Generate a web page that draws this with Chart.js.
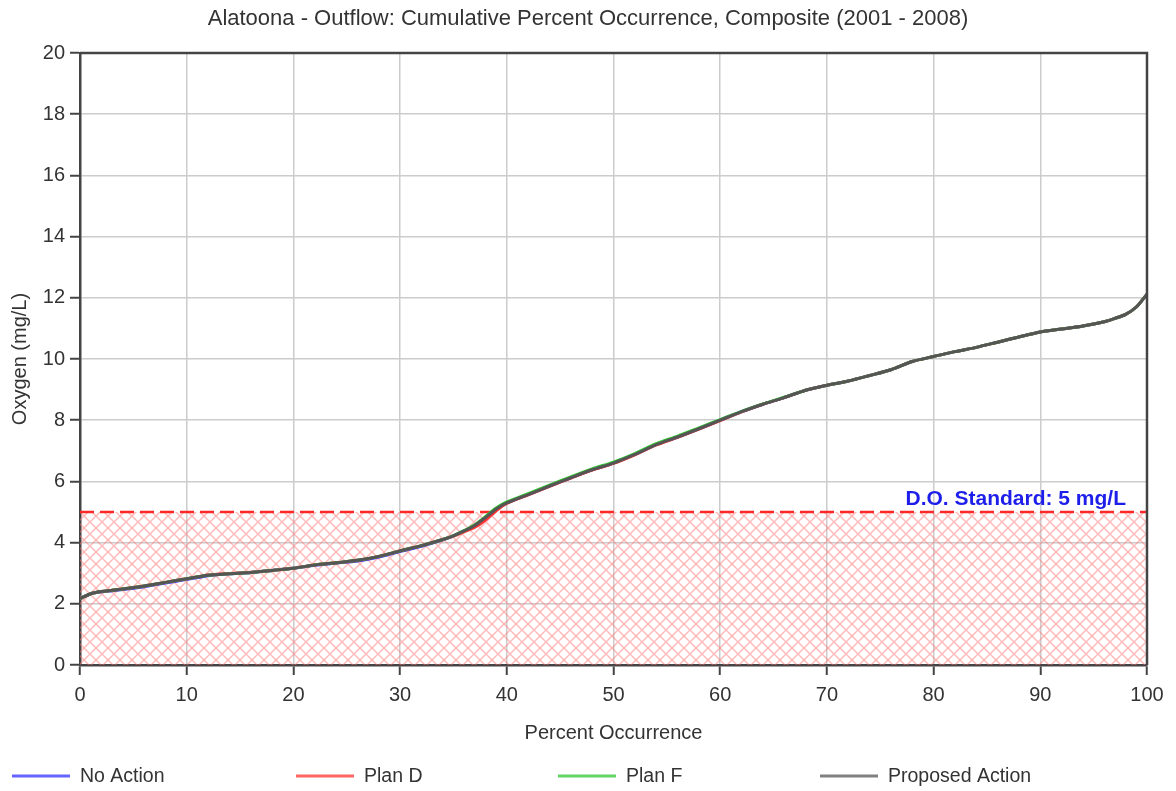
<!DOCTYPE html>
<html>
<head>
<meta charset="utf-8">
<script src="https://cdn.jsdelivr.net/npm/chart.js@4/dist/chart.umd.min.js"></script>
<style>
  html, body { margin: 0; padding: 0; background: #fff; }
  #wrap { width: 1176px; height: 791px; position: relative; }
</style>
</head>
<body>
<div id="wrap"><canvas id="oxygen_chart"></canvas></div>
<script>
// percent occurrence (x)
const PCT = [0, 1, 2, 3, 5, 6, 8, 10, 12, 14, 16, 18, 20, 22, 24, 26, 28, 30, 32, 34,
             35, 36, 37, 38, 39, 40, 42, 44, 46, 48, 50, 52, 54, 56, 58, 60, 62, 64, 66, 68,
             70, 72, 74, 76, 78, 80, 82, 84, 86, 88, 90, 92, 94, 96, 97, 98, 99, 100];

// oxygen (mg/L) for each alternative
const NO_ACTION = [2.17, 2.33, 2.39, 2.43, 2.51, 2.56, 2.68, 2.80, 2.92, 2.98, 3.02, 3.09, 3.16, 3.26, 3.33, 3.40, 3.53, 3.71, 3.88, 4.09,
                   4.22, 4.38, 4.56, 4.82, 5.10, 5.30, 5.57, 5.85, 6.12, 6.38, 6.60, 6.88, 7.20, 7.45, 7.72, 8.00, 8.28, 8.52, 8.74, 8.98,
                   9.14, 9.28, 9.46, 9.65, 9.92, 10.08, 10.24, 10.38, 10.55, 10.72, 10.88, 10.98, 11.08, 11.22, 11.33, 11.46, 11.70, 12.12];
const PLAN_D    = [2.17, 2.33, 2.40, 2.44, 2.53, 2.58, 2.70, 2.82, 2.94, 2.99, 3.03, 3.09, 3.16, 3.27, 3.34, 3.42, 3.55, 3.73, 3.90, 4.10,
                   4.21, 4.35, 4.50, 4.74, 5.04, 5.28, 5.56, 5.84, 6.11, 6.37, 6.59, 6.87, 7.19, 7.44, 7.71, 7.99, 8.27, 8.52, 8.74, 8.98,
                   9.14, 9.28, 9.46, 9.65, 9.92, 10.08, 10.24, 10.38, 10.55, 10.72, 10.88, 10.98, 11.08, 11.22, 11.33, 11.46, 11.70, 12.12];
const PLAN_F    = [2.17, 2.33, 2.40, 2.44, 2.53, 2.58, 2.70, 2.82, 2.93, 2.98, 3.02, 3.09, 3.16, 3.27, 3.34, 3.42, 3.55, 3.73, 3.90, 4.10,
                   4.23, 4.39, 4.58, 4.85, 5.13, 5.33, 5.60, 5.88, 6.15, 6.41, 6.63, 6.91, 7.23, 7.48, 7.75, 8.02, 8.29, 8.53, 8.75, 8.98,
                   9.14, 9.28, 9.46, 9.65, 9.92, 10.08, 10.24, 10.38, 10.55, 10.72, 10.88, 10.98, 11.08, 11.22, 11.33, 11.46, 11.70, 12.12];
const PROPOSED  = [2.17, 2.33, 2.40, 2.44, 2.53, 2.58, 2.70, 2.82, 2.93, 2.98, 3.02, 3.09, 3.16, 3.27, 3.34, 3.42, 3.55, 3.73, 3.90, 4.10,
                   4.22, 4.38, 4.56, 4.82, 5.10, 5.30, 5.57, 5.85, 6.12, 6.38, 6.60, 6.88, 7.20, 7.45, 7.72, 8.00, 8.28, 8.52, 8.74, 8.98,
                   9.14, 9.28, 9.46, 9.65, 9.92, 10.08, 10.24, 10.38, 10.55, 10.72, 10.88, 10.98, 11.08, 11.22, 11.33, 11.46, 11.70, 12.12];

// D.O. standard
const DO_STANDARD = 5;
const DO_LABEL = 'D.O. Standard: 5 mg/L';

const CHART_TITLE = 'Alatoona - Outflow: Cumulative Percent Occurrence, Composite (2001 - 2008)';
const SERIES_NAMES = ['No Action', 'Plan D', 'Plan F', 'Proposed Action'];
const SERIES_VALUES = [NO_ACTION, PLAN_D, PLAN_F, PROPOSED];
const SERIES_COLORS = ['rgb(50, 50, 255)', 'rgb(255, 50, 50)', 'rgb(50, 200, 50)', 'rgb(85, 85, 85)'];
const SERIES_ORDER = [3, 2, 1, 0];

const FONT = '"Liberation Sans", Arial, sans-serif';
const TEXT_COLOR = '#333';

// crosshatch for the area below the standard
function makeHatch() {
    const size = 12;
    const c = document.createElement('canvas');
    c.width = size; c.height = size;
    const g = c.getContext('2d');
    g.strokeStyle = 'rgba(255, 120, 120, 0.5)';
    g.lineWidth = 1.5;
    for (let d = -size; d <= size; d += size) {
        g.beginPath();
        g.moveTo(d, 0); g.lineTo(d + size, size);
        g.moveTo(d + size, 0); g.lineTo(d, size);
        g.stroke();
    }
    return g.createPattern(c, 'repeat');
}

function toPoints(xs, ys) {
    return xs.map((x, i) => ({ x: x, y: ys[i] }));
}

const datasets = SERIES_NAMES.map((name, i) => ({
    label: name,
    data: toPoints(PCT, SERIES_VALUES[i]),
    borderColor: SERIES_COLORS[i],
    borderWidth: 3,
    pointRadius: 0,
    tension: 0.25,
    fill: false,
    order: SERIES_ORDER[i]
}));

// hatched band 0..standard with dashed top edge
datasets.push({
    label: 'standard',
    isStandard: true,
    data: [{ x: 0, y: DO_STANDARD }, { x: 100, y: DO_STANDARD }],
    borderColor: 'rgb(255, 40, 40)',
    borderWidth: 2.5,
    borderDash: [14, 6],
    backgroundColor: makeHatch(),
    pointRadius: 0,
    fill: 'origin',
    order: 10
});

// title, top/right frame, standard label and legend
const decorations = {
    id: 'decorations',
    afterDatasetsDraw(chart) {
        const { ctx, chartArea, scales } = chart;
        ctx.save();
        ctx.strokeStyle = '#444';
        ctx.lineWidth = 2.5;
        ctx.beginPath();
        ctx.moveTo(chartArea.left, chartArea.top);
        ctx.lineTo(chartArea.right, chartArea.top);
        ctx.lineTo(chartArea.right, chartArea.bottom);
        ctx.stroke();

        ctx.fillStyle = 'rgb(30, 30, 235)';
        ctx.font = 'bold 21px ' + FONT;
        ctx.textAlign = 'right';
        ctx.textBaseline = 'alphabetic';
        ctx.fillText(DO_LABEL, chartArea.right - 21, scales.y.getPixelForValue(DO_STANDARD) - 7);
        ctx.restore();
    },
    afterDraw(chart) {
        const { ctx } = chart;
        ctx.save();
        ctx.fillStyle = TEXT_COLOR;
        ctx.font = '22px ' + FONT;
        ctx.textAlign = 'center';
        ctx.textBaseline = 'middle';
        ctx.fillText(CHART_TITLE, chart.width / 2, 19);

        const starts = [12, 296, 558, 820];
        const y = 776;
        ctx.font = '19.5px ' + FONT;
        ctx.textAlign = 'left';
        chart.data.datasets.forEach((ds, i) => {
            if (ds.isStandard) return;
            const x0 = starts[i];
            ctx.strokeStyle = ds.borderColor;
            ctx.globalAlpha = 0.75;
            ctx.lineWidth = 3;
            ctx.beginPath();
            ctx.moveTo(x0, y);
            ctx.lineTo(x0 + 58, y);
            ctx.stroke();
            ctx.globalAlpha = 1;
            ctx.fillStyle = TEXT_COLOR;
            ctx.fillText(ds.label, x0 + 68, y + 1);
        });
        ctx.restore();
    }
};

const ctx = document.getElementById('oxygen_chart').getContext('2d');
new Chart(ctx, {
    type: 'line',
    data: { datasets: datasets },
    options: {
        responsive: true,
        maintainAspectRatio: false,
        animation: false,
        layout: { padding: { left: 0, right: 29, top: 53, bottom: 46 } },
        scales: {
            x: {
                type: 'linear',
                min: 0,
                max: 100,
                afterFit: (s) => { s.height = 80; },
                ticks: { stepSize: 10, color: TEXT_COLOR, font: { family: FONT, size: 20 }, padding: 8 },
                grid: { color: '#cccccc', lineWidth: 1.5, tickColor: '#444', tickLength: 10, tickWidth: 2 },
                border: { color: '#444', width: 2.5 },
                title: { display: true, text: 'Percent Occurrence', color: TEXT_COLOR,
                         font: { family: FONT, size: 20 }, padding: { top: 0, bottom: 0 } }
            },
            y: {
                type: 'linear',
                min: 0,
                max: 20,
                afterFit: (s) => { s.width = 80; },
                ticks: { stepSize: 2, color: TEXT_COLOR, font: { family: FONT, size: 20 }, padding: 5 },
                grid: { color: '#cccccc', lineWidth: 1.5, tickColor: '#444', tickLength: 10, tickWidth: 2 },
                border: { color: '#444', width: 2.5 },
                title: { display: true, text: 'Oxygen (mg/L)', color: TEXT_COLOR,
                         font: { family: FONT, size: 20 }, padding: { top: 8, bottom: 0 } }
            }
        },
        plugins: {
            legend: { display: false },
            tooltip: { enabled: false },
            title: { display: false }
        }
    },
    plugins: [decorations]
});
</script>
</body>
</html>
